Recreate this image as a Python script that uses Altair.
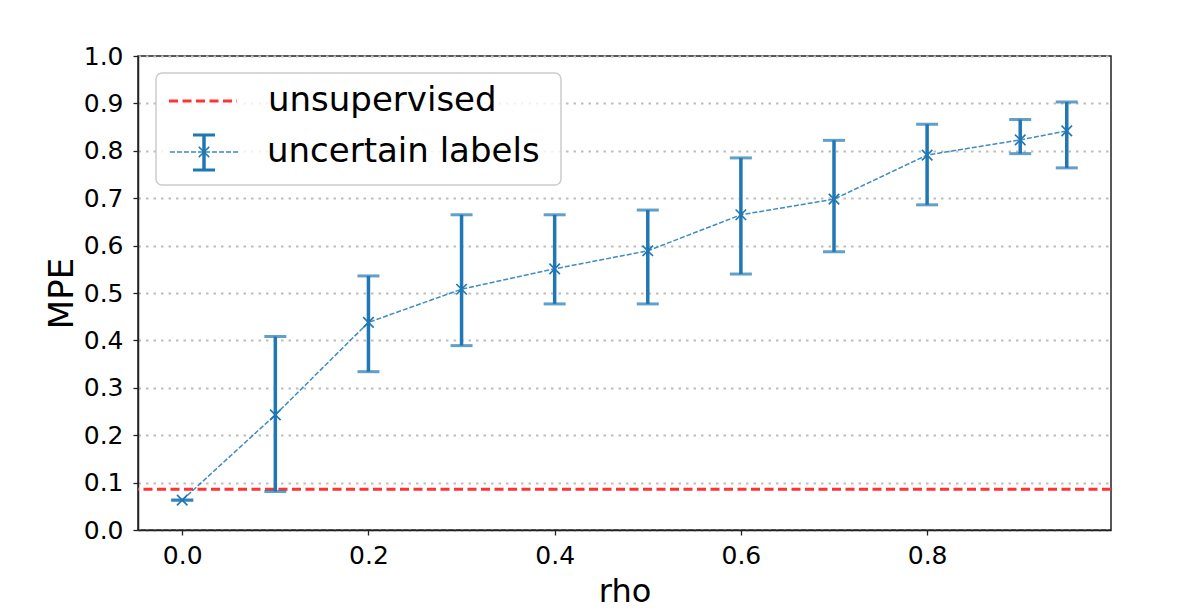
import altair as alt
import pandas as pd

# ---- data ----
rho = [0.0, 0.1, 0.2, 0.3, 0.4, 0.5, 0.6, 0.7, 0.8, 0.9, 0.95]
mpe = [0.063, 0.243, 0.438, 0.508, 0.551, 0.589, 0.665, 0.698, 0.791, 0.823, 0.842]
mpe_lo = [0.063, 0.081, 0.334, 0.389, 0.477, 0.477, 0.540, 0.587, 0.686, 0.794, 0.764]
mpe_hi = [0.063, 0.408, 0.536, 0.665, 0.665, 0.675, 0.785, 0.822, 0.856, 0.866, 0.903]
unsupervised = [0.086]
legend_labels = ["unsupervised", "uncertain labels"]
x_ticks = [0.0, 0.2, 0.4, 0.6, 0.8]
y_ticks = [0.0, 0.1, 0.2, 0.3, 0.4, 0.5, 0.6, 0.7, 0.8, 0.9, 1.0]

df = pd.DataFrame({"rho": rho, "mpe": mpe, "lo": mpe_lo, "hi": mpe_hi})
df_unsup = pd.DataFrame({"mpe": unsupervised})
one = pd.DataFrame({"k": [0]})

BLUE = "#1f77b4"
RED = "#ff3333"
FONT = "DejaVu Sans"
XPATH = "M-1,-1L1,1M-1,1L1,-1"

xscale = alt.Scale(domain=[-0.0475, 0.9975], nice=False, zero=False)
yscale = alt.Scale(domain=[0, 1], nice=False, zero=False)
xaxis = alt.Axis(values=x_ticks, format=".1f", grid=False, title="rho",
                 labelPadding=8,
                 titleY=71, titleBaseline="alphabetic", titleFontSize=32,
                 titleFontWeight="normal")
yaxis = alt.Axis(values=y_ticks, format=".1f", grid=True, gridDash=[2.5, 5],
                 gridColor="#bdbdbd", gridWidth=2, title="MPE",
                 labelPadding=10,
                 titleX=-66, titleY=237, titleAngle=-90, titleAlign="center",
                 titleBaseline="alphabetic", titleFontSize=34,
                 titleFontWeight="normal")


def X(field):
    return alt.X(field, type="quantitative", scale=xscale, axis=xaxis)


def Y(field):
    return alt.Y(field, type="quantitative", scale=yscale, axis=yaxis)


red_line = alt.Chart(df_unsup).mark_rule(
    color=RED, strokeWidth=3, strokeDash=[9, 4.5]
).encode(y=Y("mpe"))

err = alt.Chart(df).mark_rule(color=BLUE, strokeWidth=3.5).encode(
    x=X("rho"), y=Y("lo"), y2="hi"
)
cap_lo = alt.Chart(df).mark_tick(
    color=BLUE, orient="horizontal", size=22, thickness=3
).encode(x=X("rho"), y=Y("lo"))
cap_hi = alt.Chart(df).mark_tick(
    color=BLUE, orient="horizontal", size=22, thickness=3
).encode(x=X("rho"), y=Y("hi"))

line = alt.Chart(df).mark_line(
    color=BLUE, strokeWidth=1.5, strokeDash=[5, 2], opacity=0.85
).encode(x=X("rho"), y=Y("mpe"))

pts = alt.Chart(df).mark_point(
    shape=XPATH, size=110, strokeWidth=1.6, filled=False, color=BLUE, opacity=1
).encode(x=X("rho"), y=Y("mpe"))

# ---- legend box (decoration) ----
leg_box = alt.Chart(one).mark_rect(
    fill="white", fillOpacity=0.8, stroke="#cccccc", strokeWidth=1.5,
    cornerRadius=6
).encode(x=alt.value(18), x2=alt.value(423), y=alt.value(17), y2=alt.value(129))

leg_red = alt.Chart(one).mark_rule(
    color=RED, strokeWidth=3, strokeDash=[9, 4.5]
).encode(x=alt.value(31), x2=alt.value(99), y=alt.value(45))

leg_blue = alt.Chart(one).mark_rule(
    color=BLUE, strokeWidth=1.5, strokeDash=[5, 2], opacity=0.85
).encode(x=alt.value(32), x2=alt.value(102), y=alt.value(96))

leg_err = alt.Chart(one).mark_rule(color=BLUE, strokeWidth=3.5).encode(
    x=alt.value(66), y=alt.value(79), y2=alt.value(114)
)
leg_cap1 = alt.Chart(one).mark_rule(color=BLUE, strokeWidth=3).encode(
    x=alt.value(55), x2=alt.value(77), y=alt.value(79)
)
leg_cap2 = alt.Chart(one).mark_rule(color=BLUE, strokeWidth=3).encode(
    x=alt.value(55), x2=alt.value(77), y=alt.value(114)
)
leg_pt = alt.Chart(one).mark_point(
    shape=XPATH, size=110, strokeWidth=1.6, filled=False, color=BLUE, opacity=1
).encode(x=alt.value(66), y=alt.value(96))

leg_t1 = alt.Chart(one).mark_text(
    align="left", baseline="middle", font=FONT, fontSize=34, color="black"
).encode(x=alt.value(130), y=alt.value(45), text=alt.value(legend_labels[0]))
leg_t2 = alt.Chart(one).mark_text(
    align="left", baseline="middle", font=FONT, fontSize=34, color="black"
).encode(x=alt.value(129), y=alt.value(96), text=alt.value(legend_labels[1]))

chart = alt.layer(
    red_line, line, err, cap_lo, cap_hi, pts,
    leg_box, leg_red, leg_blue, leg_err, leg_cap1, leg_cap2, leg_pt, leg_t1, leg_t2
).properties(
    width=973, height=474,
    autosize=alt.AutoSizeParams(type="none"),
    padding={"left": 130, "top": 48, "right": 77, "bottom": 76},
    background="white",
).configure_view(
    stroke="#222222", strokeWidth=1.5
).configure_axis(
    labelFont=FONT, labelFontSize=25, labelColor="black",
    titleFont=FONT, titleColor="black",
    domainColor="#222222", domainWidth=1.5,
    tickColor="#222222", tickSize=5, tickWidth=1.3,
)

chart.save("out.html", embed_options={"renderer": "svg", "actions": False})
